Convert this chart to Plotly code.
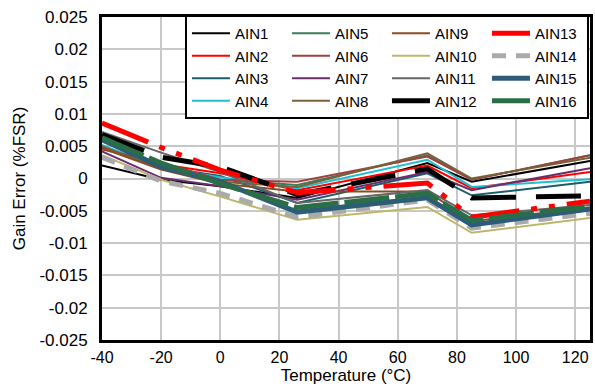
import plotly.graph_objects as go

temps = [-40, -20, 0, 26, 70, 85, 125]

ain1 = [0.0020, -0.0002, -0.0012, -0.0030, 0.0024, -0.0005, 0.0027]
ain2 = [0.0048, 0.0022, 0.0008, -0.0018, 0.0020, -0.0015, 0.0010]
ain3 = [0.0058, 0.0018, 0.0004, -0.0038, 0.0008, -0.0026, -0.0005]
ain4 = [0.0052, 0.0016, 0.0002, -0.0015, 0.0029, -0.0013, -0.0001]
ain5 = [0.0060, 0.0020, -0.0002, -0.0010, 0.0036, -0.0002, 0.0036]
ain6 = [0.0045, 0.0025, -0.0002, -0.0005, 0.0034, -0.0002, 0.0036]
ain7 = [0.0042, 0.0001, -0.0012, -0.0033, 0.0010, -0.0018, 0.0016]
ain8 = [0.0050, 0.0015, -0.0005, -0.0013, 0.0039, 0.0000, 0.0032]
ain9 = [0.0047, 0.0014, -0.0008, -0.0020, -0.0020, -0.0066, -0.0045]
ain10 = [0.0036, -0.0002, -0.0028, -0.0064, -0.0044, -0.0084, -0.0061]
ain11 = [0.0072, 0.0040, 0.0010, -0.0038, -0.0018, -0.0057, -0.0041]
ain12 = [0.0068, 0.0033, 0.0018, -0.0025, 0.0015, -0.0030, -0.0027]
ain13 = [0.0086, 0.0048, 0.0013, -0.0022, -0.0007, -0.0060, -0.0035]
ain14 = [0.0033, -0.0004, -0.0023, -0.0060, -0.0033, -0.0077, -0.0054]
ain15 = [0.0060, 0.0018, -0.0005, -0.0052, -0.0030, -0.0072, -0.0047]
ain16 = [0.0063, 0.0024, -0.0008, -0.0045, -0.0023, -0.0065, -0.0043]

names = [f"AIN{i}" for i in range(1, 17)]
series = [ain1, ain2, ain3, ain4, ain5, ain6, ain7, ain8,
          ain9, ain10, ain11, ain12, ain13, ain14, ain15, ain16]

y_ticks = [0.025, 0.02, 0.015, 0.01, 0.005, 0, -0.005, -0.01, -0.015, -0.02, -0.025]
y_tick_text = ["0.025", "0.02", "0.015", "0.01", "0.005", "0", "-0.005", "-0.01", "-0.015", "-0.02", "-0.025"]
x_ticks = [-40, -20, 0, 20, 40, 60, 80, 100, 120]
x_tick_text = ["-40", "-20", "0", "20", "40", "60", "80", "100", "120"]

styles = [
    ("#000000", 2, "solid"),
    ("#ff0000", 2, "solid"),
    ("#1b5e6b", 2, "solid"),
    ("#1ec0d0", 2, "solid"),
    ("#3a7d5c", 2, "solid"),
    ("#a0403f", 2, "solid"),
    ("#6b2d6b", 2, "solid"),
    ("#7a6038", 2, "solid"),
    ("#8b4a22", 2, "solid"),
    ("#bdb76b", 2, "solid"),
    ("#666666", 2, "solid"),
    ("#000000", 5, "45px,20px"),
    ("#ff0000", 5, "50px,12px,6px,12px,6px,12px"),
    ("#aaaaaa", 5, "14px,10px"),
    ("#2c5c78", 5, "solid"),
    ("#2a6e48", 5, "45px,6px"),
]

fig = go.Figure()
for i, (name, vals, (col, w, dash)) in enumerate(zip(names, series, styles)):
    row = i % 4
    colidx = i // 4
    fig.add_trace(go.Scatter(
        x=temps, y=vals, mode="lines", name=name,
        line=dict(color=col, width=w, dash=dash),
        legendrank=row * 4 + colidx + 1,
    ))

font_family = "Liberation Sans, Arial, sans-serif"
fig.update_layout(
    width=595, height=392,
    margin=dict(l=102, r=5, t=17, b=52, autoexpand=False),
    paper_bgcolor="white", plot_bgcolor="white",
    font=dict(family=font_family, size=16, color="#000000"),
    showlegend=True,
    legend=dict(
        orientation="h", x=0.17, y=1.006, xanchor="left", yanchor="top",
        bgcolor="white", bordercolor="#000000", borderwidth=2,
        font=dict(size=15), entrywidth=47, tracegroupgap=0,
        itemwidth=38,
    ),
    xaxis=dict(
        range=[-40, 125], tickvals=x_ticks, ticktext=x_tick_text,
        showgrid=True, gridcolor="#c8c8c8", gridwidth=1.5,
        showline=True, linecolor="#000000", linewidth=3, mirror=True,
        zeroline=False, ticks="", ticklabelstandoff=1, automargin=False,
        title=dict(text="Temperature (°C)", standoff=4, font=dict(size=17)),
        tickfont=dict(size=16),
    ),
    yaxis=dict(
        range=[-0.025, 0.025], tickvals=y_ticks, ticktext=y_tick_text,
        showgrid=True, gridcolor="#c8c8c8", gridwidth=1.5,
        showline=True, linecolor="#000000", linewidth=3, mirror=True,
        zeroline=False, ticks="", ticklabelstandoff=8, automargin=False,
        title=dict(text="Gain Error (%FSR)", standoff=10, font=dict(size=17)),
        tickfont=dict(size=17),
    ),
)

fig.write_html("out.html", config={"displayModeBar": False},
               post_script="document.body.style.margin='0';")
